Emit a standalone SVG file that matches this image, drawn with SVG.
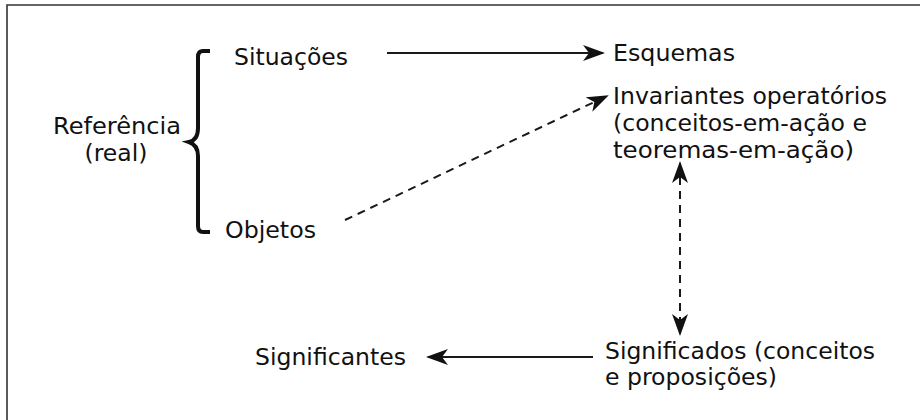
<svg xmlns="http://www.w3.org/2000/svg" width="922" height="420" viewBox="0 0 922 420">
<style>
text{font-family:"DejaVu Sans","Liberation Sans",sans-serif;font-size:23px;fill:#111}
.ln{stroke:#1a1a1a;stroke-width:2;fill:none}
.d{stroke-dasharray:8,6}
</style>
<defs>
<marker id="ah" viewBox="0 0 22 16" refX="20" refY="8" markerWidth="22" markerHeight="16" markerUnits="userSpaceOnUse" orient="auto-start-reverse">
<path d="M0,0 L22,8 L0,16 L6,8 Z" fill="#111"/>
</marker>
</defs>
<rect width="922" height="420" fill="#fff"/>
<path d="M7,420 V5 H920" fill="none" stroke="#333" stroke-width="1.6"/>
<g id="referencia"><text x="117" y="134" text-anchor="middle" textLength="128" lengthAdjust="spacingAndGlyphs">Referência</text><text x="116" y="161" text-anchor="middle" textLength="63" lengthAdjust="spacingAndGlyphs">(real)</text></g>
<g id="chave"><path d="M210,51 H203 Q198,51 198,57 V128 Q198,140 189,142 Q198,145 198,156 V226 Q198,232 203,232 H210" fill="none" stroke="#111" stroke-width="4"/></g>
<g id="situacoes"><text x="234" y="65" textLength="114" lengthAdjust="spacingAndGlyphs">Situações</text></g>
<g id="objetos"><text x="225" y="238" textLength="91" lengthAdjust="spacingAndGlyphs">Objetos</text></g>
<g id="esquemas"><text x="613" y="61" textLength="122" lengthAdjust="spacingAndGlyphs">Esquemas</text></g>
<g id="invariantes"><text x="613" y="104" textLength="274" lengthAdjust="spacingAndGlyphs">Invariantes operatórios</text><text x="613" y="131" textLength="254" lengthAdjust="spacingAndGlyphs">(conceitos-em-ação e</text><text x="613" y="158" textLength="241" lengthAdjust="spacingAndGlyphs">teoremas-em-ação)</text></g>
<g id="significados"><text x="605" y="359" textLength="270" lengthAdjust="spacingAndGlyphs">Significados (conceitos</text><text x="605" y="385" textLength="172" lengthAdjust="spacingAndGlyphs">e proposições)</text></g>
<g id="significantes"><text x="255" y="365" textLength="151" lengthAdjust="spacingAndGlyphs">Significantes</text></g>
<g id="connectors">
<line class="ln" x1="387" y1="53" x2="603" y2="53" marker-end="url(#ah)"/>
<line class="ln d" x1="345" y1="220" x2="607" y2="96" marker-end="url(#ah)"/>
<line class="ln d" x1="680" y1="163" x2="680" y2="334" marker-start="url(#ah)" marker-end="url(#ah)"/>
<line class="ln" x1="593" y1="357" x2="428" y2="357" marker-end="url(#ah)"/>
</g>
</svg>
